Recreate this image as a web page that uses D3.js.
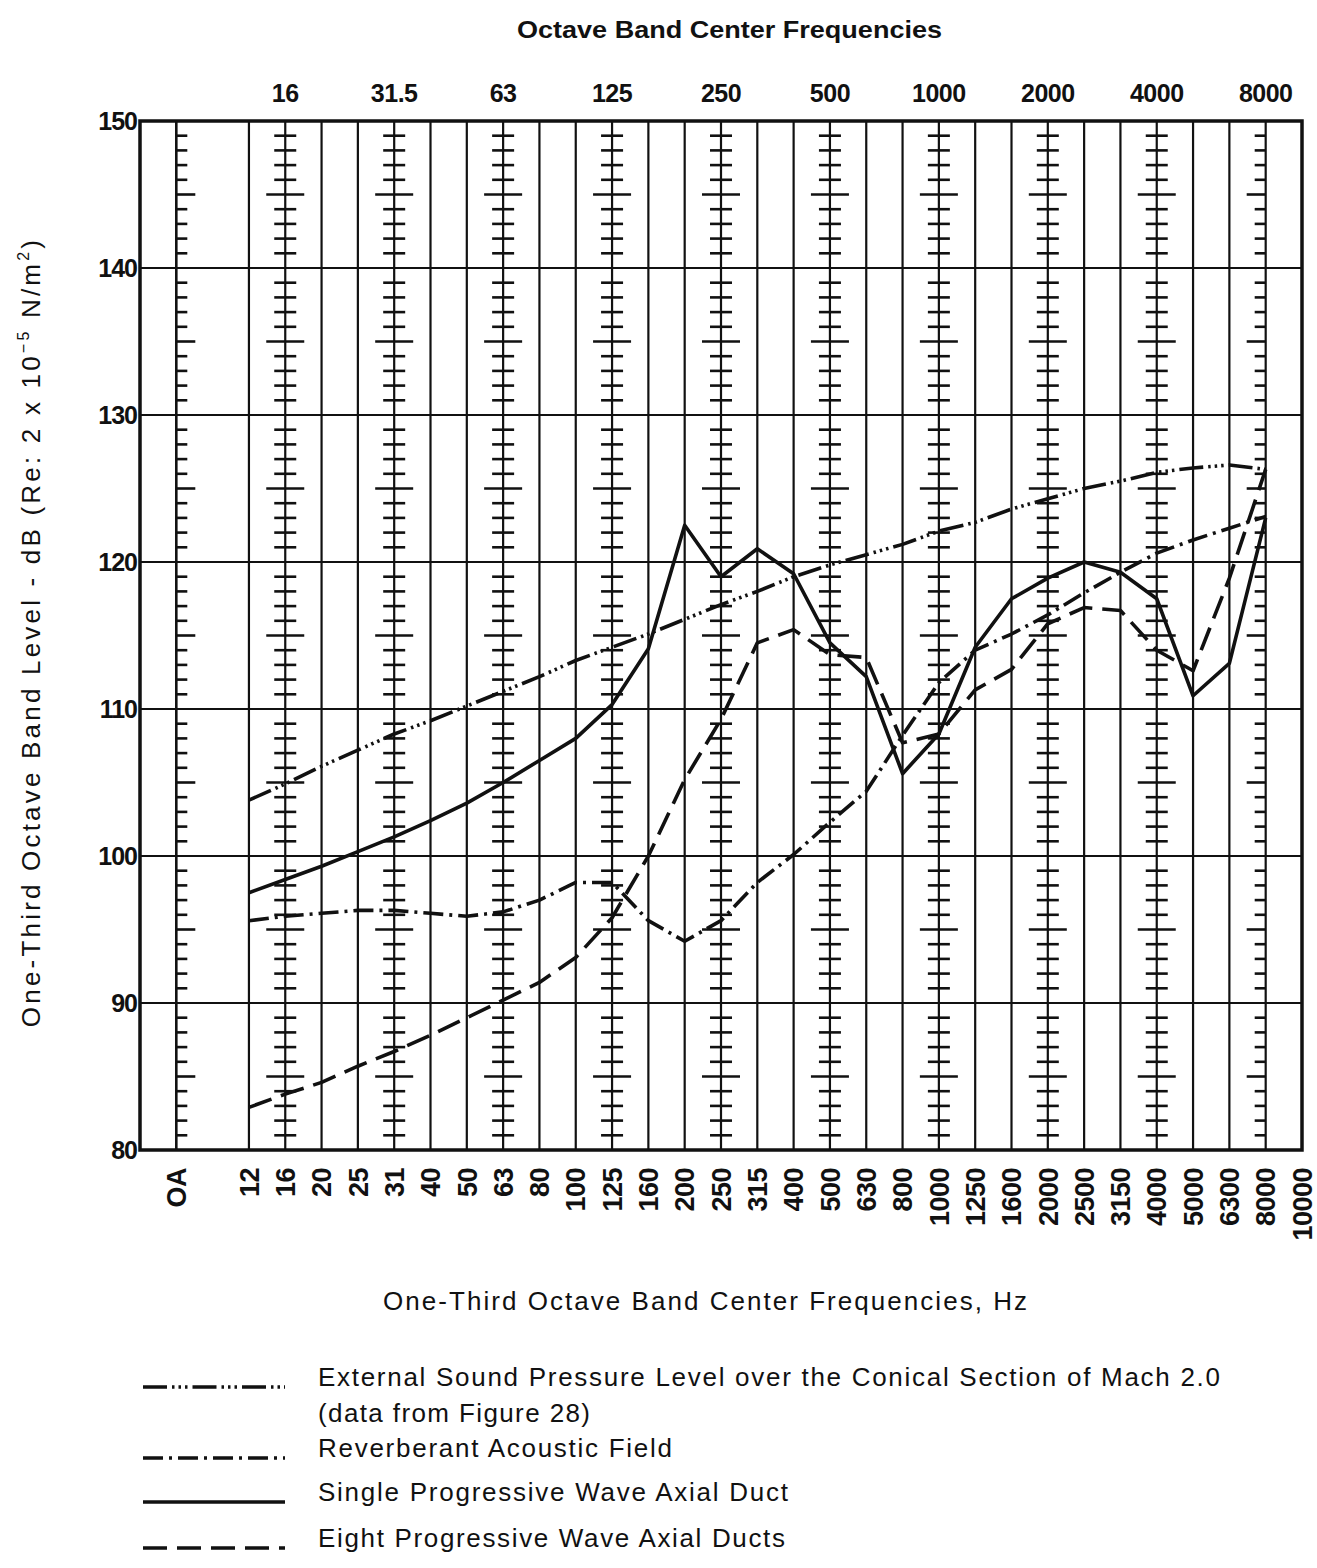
<!DOCTYPE html>
<html lang="en">
<head>
<meta charset="UTF-8">
<title>One-Third Octave Band Levels</title>
<script src="https://d3js.org/d3.v7.min.js"></script>
<style>
  body { margin: 0; background: #fff; }
  svg { display: block; font-family: "Liberation Sans", Arial, sans-serif; fill: #111; }
</style>
</head>
<body>
<svg width="1317" height="1568"></svg>
<script>
// one-third octave band centres, Hz (12 ... 10000)
const bands = ["12", "16", "20", "25", "31", "40", "50", "63", "80", "100", "125", "160", "200", "250",
    "315", "400", "500", "630", "800", "1000", "1250", "1600", "2000", "2500", "3150", "4000", "5000",
    "6300", "8000", "10000"];
// octave band centres printed on top, and the band column they sit on
const octaveLabels = ["16", "31.5", "63", "125", "250", "500", "1000", "2000", "4000", "8000"];
const octaveBands = ["16", "31", "63", "125", "250", "500", "1000", "2000", "4000", "8000"];
const yTicks = [80, 90, 100, 110, 120, 130, 140, 150];

// levels in dB, one value per band from 12 to 8000 Hz
const externalSpl = [103.8, 104.9, 106.1, 107.2, 108.3, 109.2, 110.2, 111.2, 112.2, 113.3, 114.2, 115.1,
    116.1, 117.1, 118.0, 119.0, 119.8, 120.5, 121.2, 122.1, 122.7, 123.6, 124.3, 125.0, 125.5, 126.1,
    126.4, 126.6, 126.3];
const reverberant = [95.6, 95.9, 96.1, 96.3, 96.3, 96.1, 95.9, 96.2, 97.0, 98.2, 98.2, 95.6, 94.2, 95.6,
    98.2, 100.1, 102.3, 104.4, 108.2, 111.8, 114.0, 115.1, 116.4, 117.9, 119.3, 120.6, 121.5, 122.3, 123.1];
const singleDuct = [97.5, 98.4, 99.3, 100.3, 101.3, 102.4, 103.6, 105.0, 106.5, 108.0, 110.3, 114.1, 122.5,
    119.0, 120.9, 119.2, 114.5, 112.2, 105.6, 108.3, 114.2, 117.5, 118.9, 120.0, 119.3, 117.5, 110.9,
    113.1, 123.0];
const eightDucts = [82.9, 83.8, 84.6, 85.7, 86.7, 87.8, 89.0, 90.2, 91.4, 93.1, 95.8, 100.0, 105.2, 109.3,
    114.5, 115.4, 113.7, 113.5, 107.7, 108.3, 111.3, 112.7, 115.8, 116.9, 116.7, 114.0, 112.6, 118.9, 126.3];

const seriesNames = [
    "External Sound Pressure Level over the Conical Section of Mach 2.0",
    "Reverberant Acoustic Field",
    "Single Progressive Wave Axial Duct",
    "Eight Progressive Wave Axial Ducts"
];

const svg = d3.select("svg");
const plotLeft = 140, plotRight = 1302, plotTop = 121, plotBottom = 1150;

// column index: OA sits at -2, the left frame at -3, 12 Hz at 0
const x = d3.scaleLinear().domain([-3, bands.length - 1]).range([plotLeft, plotRight]);
const y = d3.scaleLinear().domain([80, 150]).range([plotBottom, plotTop]);
const col = b => x(bands.indexOf(b));

// horizontal grid every 10 dB
svg.append("g").selectAll("line").data(yTicks.slice(1, -1)).join("line")
    .attr("x1", plotLeft).attr("x2", plotRight)
    .attr("y1", d => y(d)).attr("y2", d => y(d))
    .attr("stroke", "#111").attr("stroke-width", 2.2);

// vertical grid at OA and every band
const vcols = [-2].concat(d3.range(bands.length - 1));
svg.append("g").selectAll("line").data(vcols).join("line")
    .attr("x1", d => x(d)).attr("x2", d => x(d))
    .attr("y1", plotTop).attr("y2", plotBottom)
    .attr("stroke", "#111").attr("stroke-width", d => d === -2 ? 2.6 : 2.2);

// frame
svg.append("rect")
    .attr("x", plotLeft).attr("y", plotTop)
    .attr("width", plotRight - plotLeft).attr("height", plotBottom - plotTop)
    .attr("fill", "none").attr("stroke", "#111").attr("stroke-width", 3.5);

// dB scale ticks on the octave columns
const dbSteps = d3.range(81, 150).filter(v => v % 10 !== 0);
const tickCols = [{ x: x(-2), side: "right" }]
    .concat(octaveBands.map(b => ({ x: col(b), side: b === "8000" ? "left" : "both" })));

tickCols.forEach(c => {
    svg.append("g").selectAll("line").data(dbSteps).join("line")
        .attr("x1", v => c.side === "right" ? c.x : c.x - (v % 5 === 0 ? 19 : 11))
        .attr("x2", v => c.side === "left" ? c.x : c.x + (v % 5 === 0 ? 19 : 11))
        .attr("y1", v => y(v)).attr("y2", v => y(v))
        .attr("stroke", "#111").attr("stroke-width", 2.6);
});

// y axis labels
svg.append("g").selectAll("text").data(yTicks).join("text")
    .attr("x", plotLeft - 3).attr("y", d => y(d)).attr("dy", "0.36em")
    .attr("text-anchor", "end").attr("font-size", 25).attr("font-weight", "bold")
    .attr("letter-spacing", -1)
    .text(d => d);

// bottom band labels, rotated
const bottomLabels = [{ i: -2, t: "OA" }].concat(bands.map((b, i) => ({ i: i, t: b })));
svg.append("g").selectAll("text").data(bottomLabels).join("text")
    .attr("transform", d => `translate(${x(d.i)},${plotBottom + 18}) rotate(-90)`)
    .attr("dy", "0.36em")
    .attr("text-anchor", "end").attr("font-size", 27).attr("font-weight", "bold")
    .attr("letter-spacing", -0.5)
    .text(d => d.t);

// top octave labels
svg.append("g").selectAll("text").data(octaveLabels).join("text")
    .attr("x", (d, i) => col(octaveBands[i])).attr("y", 102)
    .attr("text-anchor", "middle").attr("font-size", 25).attr("font-weight", "bold")
    .attr("letter-spacing", -0.5)
    .text(d => d);

svg.append("text")
    .attr("x", 517).attr("y", 38)
    .attr("font-size", 24).attr("font-weight", "bold")
    .attr("textLength", 425).attr("lengthAdjust", "spacingAndGlyphs")
    .text("Octave Band Center Frequencies");

svg.append("text")
    .attr("x", 383).attr("y", 1310)
    .attr("font-size", 26)
    .attr("textLength", 644)
    .text("One-Third Octave Band Center Frequencies, Hz");

// y axis title with superscripts
const yt = svg.append("text")
    .attr("transform", "translate(40,632) rotate(-90)")
    .attr("text-anchor", "middle").attr("font-size", 26)
    .attr("letter-spacing", 3.2);
yt.append("tspan").text("One-Third Octave Band Level - dB (Re: 2 x 10");
yt.append("tspan").attr("font-size", 16).attr("dy", -11).text("\u22125");
yt.append("tspan").attr("dy", 11).text(" N/m");
yt.append("tspan").attr("font-size", 16).attr("dy", -11).text("2");
yt.append("tspan").attr("dy", 11).text(")");

// curves
const styles = [
    { data: externalSpl, dash: "24,5,2.5,4,2.5,4,2.5,5" },
    { data: reverberant, dash: "20,6,3,6" },
    { data: singleDuct, dash: null },
    { data: eightDucts, dash: "24,10" }
];

const line = d3.line().x((d, i) => x(i)).y(d => y(d));

svg.append("g").selectAll("path").data(styles).join("path")
    .attr("d", d => line(d.data))
    .attr("fill", "none").attr("stroke", "#111").attr("stroke-width", 3.6)
    .attr("stroke-linejoin", "round")
    .attr("stroke-dasharray", d => d.dash);

// legend
const legendRows = [
    { y: 1387, text: [[seriesNames[0], 902], ["(data from Figure 28)", 272]], style: styles[0] },
    { y: 1458, text: [[seriesNames[1], 354]], style: styles[1] },
    { y: 1502, text: [[seriesNames[2], 470]], style: styles[2] },
    { y: 1548, text: [[seriesNames[3], 467]], style: styles[3] }
];

const lg = svg.append("g").selectAll("g").data(legendRows).join("g");
lg.append("line")
    .attr("x1", 143).attr("x2", 285)
    .attr("y1", d => d.y).attr("y2", d => d.y)
    .attr("stroke", "#111").attr("stroke-width", 3.6)
    .attr("stroke-dasharray", d => d.style.dash);
lg.each(function (d) {
    d3.select(this).selectAll("text").data(d.text).join("text")
        .attr("x", 318).attr("y", (t, i) => d.y - 1 + i * 36)
        .attr("font-size", 26)
        .attr("textLength", t => t[1])
        .text(t => t[0]);
});
</script>
</body>
</html>
